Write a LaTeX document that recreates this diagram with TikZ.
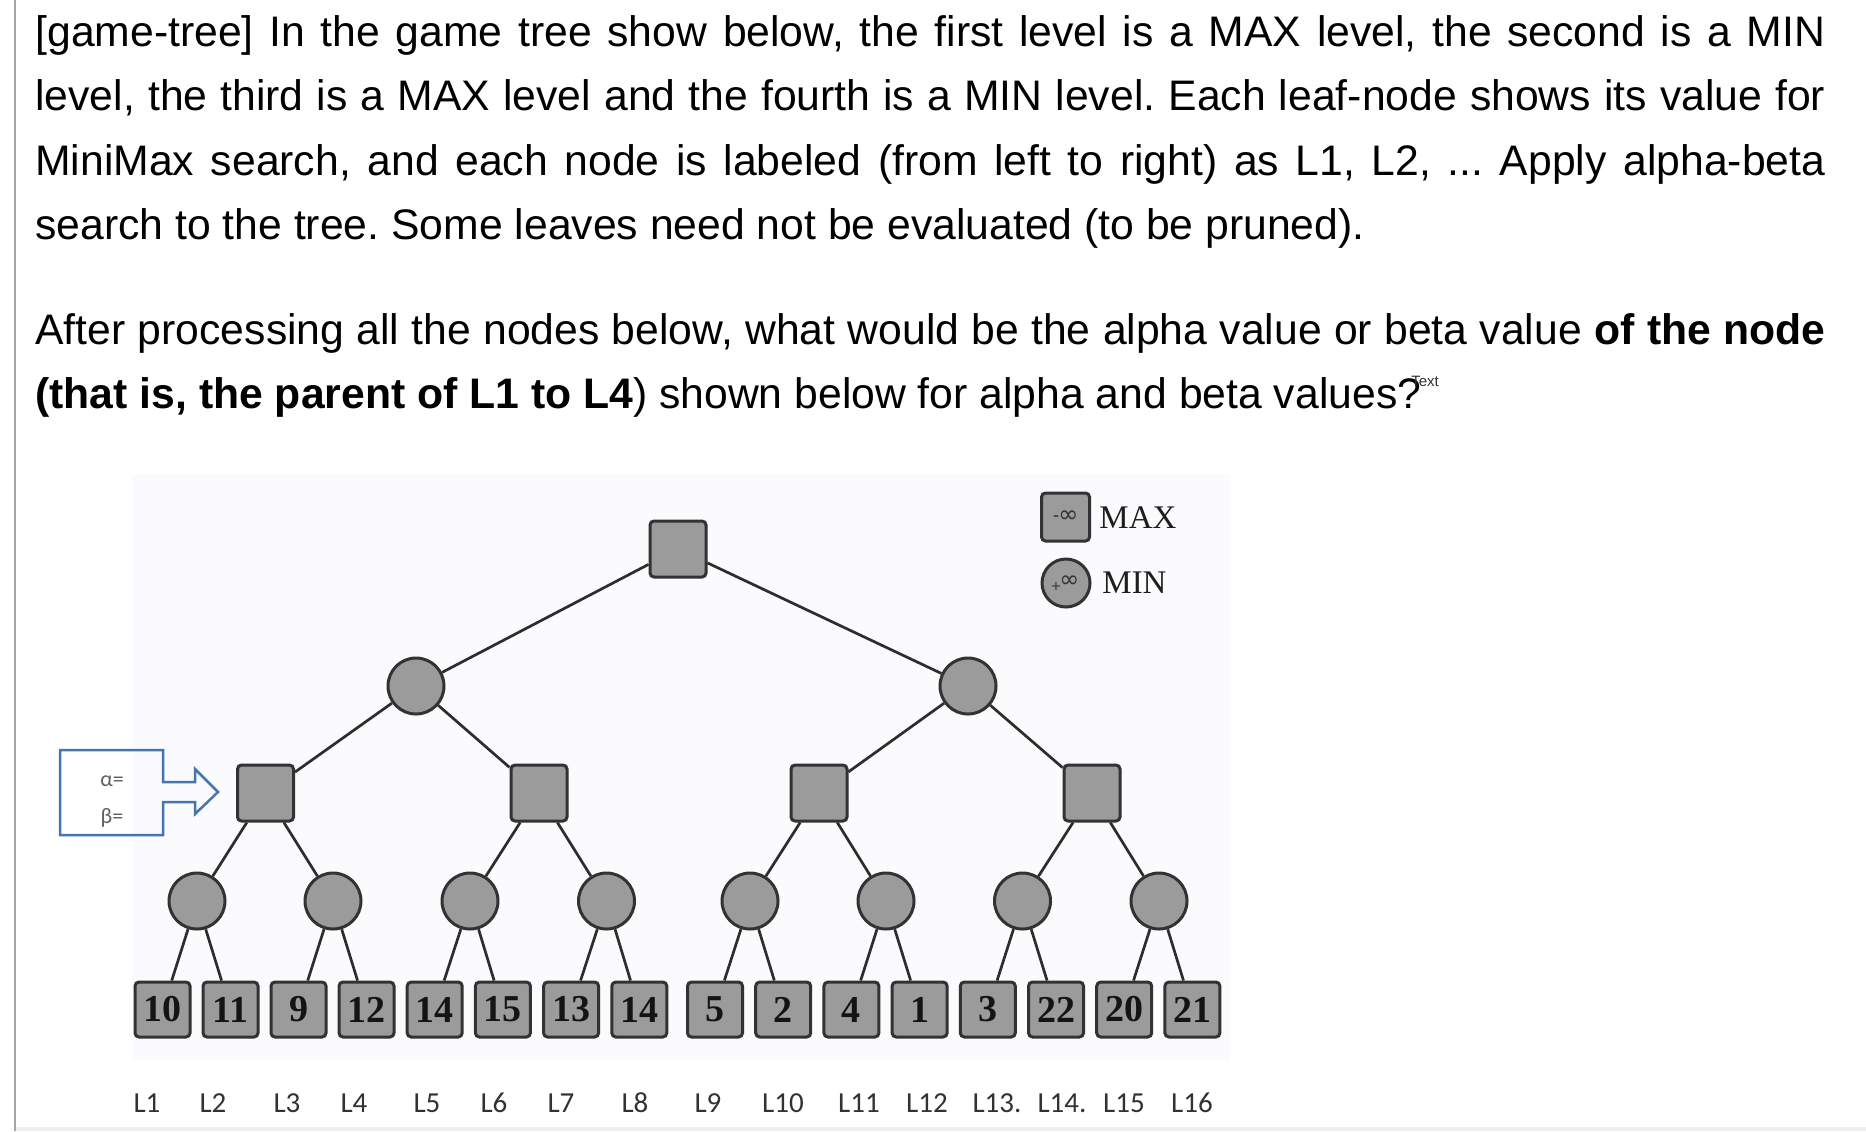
\documentclass[tikz,border=0pt]{standalone}
\usepackage{fontspec}
\setmainfont{Liberation Sans}
\newfontfamily\numfont{Liberation Serif}
\newfontfamily\calfont{Carlito}
\newfontfamily\symfont{DejaVu Sans}
\definecolor{nodefill}{RGB}{155,155,155}
\definecolor{nodeborder}{RGB}{50,50,50}
\definecolor{edgecol}{RGB}{45,45,45}
\definecolor{abblue}{RGB}{72,118,172}
\definecolor{labgray}{RGB}{50,50,50}
\definecolor{abtext}{RGB}{95,95,95}
\definecolor{bggray}{RGB}{251,250,252}
\definecolor{bordergray}{RGB}{165,165,165}
\definecolor{bottomgray}{RGB}{238,238,238}
\definecolor{leaftext}{RGB}{20,20,20}
\definecolor{legtext}{RGB}{30,30,30}
\begin{document}
\frenchspacing
\begin{tikzpicture}[x=0.5pt,y=-0.5pt,
  txt/.style={anchor=base west, inner sep=0pt, font=\fontsize{21.35pt}{25pt}\selectfont},
  maxsq/.style={draw=nodeborder, fill=nodefill, line width=1.5pt, rounded corners=2pt, inner sep=0pt, minimum size=#1},
  minnode/.style={circle, draw=nodeborder, fill=nodefill, line width=1.5pt, inner sep=0pt, minimum size=#1},
  leafsq/.style={maxsq=27.5pt, font=\numfont\bfseries\fontsize{19pt}{21pt}\selectfont, text=leaftext},
  edge/.style={draw=edgecol, line width=1.35pt},
  leaflab/.style={anchor=base, inner sep=0pt, text=labgray, font=\calfont\fontsize{14.5pt}{16pt}\selectfont},
  legtxt/.style={anchor=base west, inner sep=0pt, text=legtext, font=\numfont\fontsize{16.5pt}{18pt}\selectfont},
  abtxt/.style={inner sep=0pt, text=abtext, font=\calfont\fontsize{11pt}{12pt}\selectfont}]
\useasboundingbox (0,0) rectangle (1866,1131);
\fill[white] (0,0) rectangle (1866,1131);
\fill[bottomgray] (16,1127) rectangle (1866,1131);
\draw[bordergray, line width=1.25pt] (15,0) -- (15,1131);

% question text
\node[txt] (t1) at (35,46) {\makebox[895pt][s]{[game-tree] In the game tree show below, the first level is a MAX level, the second is a MIN}};
\node[txt] (t2) at (35,110.5) {\makebox[895pt][s]{level, the third is a MAX level and the fourth is a MIN level. Each leaf-node shows its value for}};
\node[txt] (t3) at (35,175) {\makebox[895pt][s]{MiniMax search, and each node is labeled (from left to right) as L1, L2, ... Apply alpha-beta}};
\node[txt] (t4) at (35,239.5) {search to the tree. Some leaves need not be evaluated (to be pruned).};
\node[txt] (t5) at (35,344) {\makebox[895pt][s]{After processing all the nodes below, what would be the alpha value or beta value \textbf{of the node}}};
\node[txt] (t6) at (35,408.5) {\textbf{(that is, the parent of L1 to L4})\ shown below for alpha and beta values?\kern-5pt\raisebox{11pt}{\fontsize{7.5pt}{8pt}\selectfont\color{labgray}Text}};

% diagram background
\fill[bggray] (132,474) rectangle (1230,1060);

% tree nodes
\node[maxsq=28pt] (root) at (678,549) {};
\node[minnode=28pt] (m1) at (416,686) {};
\node[minnode=28pt] (m2) at (968,686) {};
\node[maxsq=28pt] (x1) at (265.5,793) {};
\node[maxsq=28pt] (x2) at (539,793) {};
\node[maxsq=28pt] (x3) at (819,793) {};
\node[maxsq=28pt] (x4) at (1092,793) {};
\foreach \xx [count=\k] in {197,333,470,606.5,750,886,1022.5,1159}
  \node[minnode=28pt] (n\k) at (\xx,901) {};
\foreach \xx/\v [count=\k] in {162.5/10,230.5/11,298.5/9,366.5/12,434.7/14,502.9/15,571.1/13,639.3/14,715/5,783.2/2,851.4/4,919.6/1,987.8/3,1056/22,1124.2/20,1192.4/21}
  \node[leafsq] (l\k) at (\xx,1009.5) {\v};

% edges
\draw[edge] (root) -- (m1);
\draw[edge] (root) -- (m2);
\draw[edge] (m1) -- (x1);
\draw[edge] (m1) -- (x2);
\draw[edge] (m2) -- (x3);
\draw[edge] (m2) -- (x4);
\foreach \p/\a/\b in {1/1/2,2/3/4,3/5/6,4/7/8}{
  \draw[edge] (x\p) -- (n\a);
  \draw[edge] (x\p) -- (n\b);
}
\foreach \p [evaluate=\p as \a using int(2*\p-1), evaluate=\p as \b using int(2*\p)] in {1,...,8}{
  \draw[edge] (n\p) -- (l\a);
  \draw[edge] (n\p) -- (l\b);
}

% leaf labels
\foreach \xx/\t [count=\k] in {147/L1,213/L2,287/L3,354/L4,427/L5,494/L6,561/L7,635/L8,708/L9,783/L10,859/L11,927/L12,997/L13.,1062/L14.,1124/L15,1192/L16}
  \node[leaflab] (lab\k) at (\xx,1112.5) {\t};

% legend
\node[maxsq=24pt] (legmax) at (1065.5,517) {\symfont\fontsize{12pt}{13pt}\selectfont\color{labgray}\raisebox{0.5pt}{\fontsize{9pt}{10pt}\selectfont -}\kern-0.5pt∞};
\node[minnode=24pt] (legmin) at (1066,583) {\symfont\fontsize{12pt}{13pt}\selectfont\color{labgray}\kern-1pt\raisebox{-1.5pt}{\fontsize{6.5pt}{7pt}\selectfont+}\kern-1pt∞};
\node[legtxt] (legmaxt) at (1099,528) {MAX};
\node[legtxt] (legmint) at (1102,593) {MIN};

% alpha-beta callout
\draw[abblue, line width=1.25pt] (60,750) -- (163,750) -- (163,782) -- (195,782) -- (195,769) -- (218,792) -- (195,814) -- (195,802) -- (163,802) -- (163,835) -- (60,835) -- cycle;
\node[abtxt] (alab) at (112,781) {α=};
\node[abtxt] (blab) at (112,818) {β=};
\end{tikzpicture}
\end{document}
